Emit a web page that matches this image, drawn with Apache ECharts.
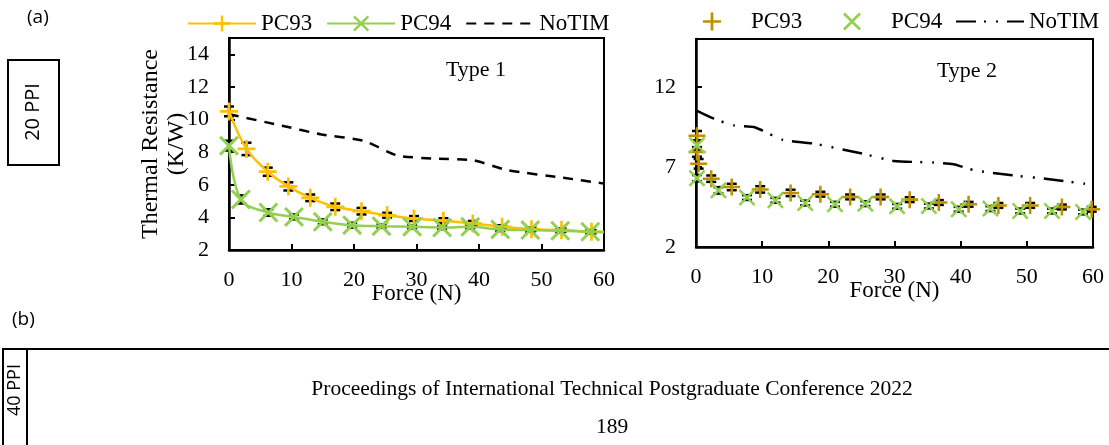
<!DOCTYPE html>
<html>
<head>
    <meta charset="utf-8" />
    <title>Thermal resistance vs force</title>
    <script src="https://cdn.jsdelivr.net/npm/echarts@6/dist/echarts.min.js"></script>
    <style>
        html, body { margin: 0; padding: 0; background: #fff; }
        #main { width: 1109px; height: 445px; }
    </style>
</head>
<body>
    <div id="main"></div>
<script>
    // ---- Type 1 (left panel) ----
    var t1Force93 = [0, 2.8, 6.2, 9.5, 13, 17, 21.2, 25.3, 29.6, 34.3, 39, 43.7, 48.4, 53.2, 58, 60];
    var t1PC93 = [10.5, 8.2, 6.8, 5.9, 5.2, 4.65, 4.38, 4.13, 3.93, 3.8, 3.63, 3.42, 3.27, 3.22, 3.12, 3.1];
    var t1Err93 = [0.3, 0.38, 0.25, 0.25, 0.2, 0.2, 0.2, 0.15, 0.15, 0.15, 0.15, 0.1, 0.1, 0.1, 0.1];
    var t1Force94 = [0, 1.9, 6.3, 10.4, 15, 19.7, 24.4, 29.3, 34.1, 38.6, 43.4, 48.2, 53, 57.8, 60];
    var t1PC94 = [8.4, 5.1, 4.3, 4.03, 3.73, 3.52, 3.46, 3.42, 3.38, 3.42, 3.26, 3.22, 3.18, 3.12, 3.1];
    var t1Err94 = [0.3, 0.25, 0.2, 0.15, 0.15, 0.15, 0.1, 0.1, 0.1, 0.1, 0.1, 0.1, 0.1, 0.1];
    var t1ForceNo = [0, 8.5, 14.6, 21.5, 26.9, 33, 39.1, 44.5, 53.5, 60];
    var t1NoTIM = [10.33, 9.62, 9.1, 8.7, 7.8, 7.6, 7.5, 6.9, 6.43, 6.07];

    // ---- Type 2 (right panel) ----
    var t2Force93 = [0.15, 0.15, 0.4, 2.3, 5.4, 9.7, 14.3, 18.8, 23.3, 27.9, 32.3, 36.7, 41.2, 45.7, 50.5, 55.3, 59.8];
    var t2PC93 = [8.95, 7.94, 7.2, 6.27, 5.75, 5.6, 5.38, 5.3, 5.13, 5.13, 4.96, 4.78, 4.67, 4.6, 4.6, 4.5, 4.36];
    var t2Err93 = [0.3, 0.3, 0.3, 0.2, 0.2, 0.2, 0.2, 0.15, 0.15, 0.15, 0.15, 0.15, 0.15, 0.15, 0.15, 0.15, 0.15];
    var t2Force94 = [0.15, 0.15, 3.4, 7.7, 12, 16.5, 21, 25.6, 30.4, 35.2, 39.7, 44.5, 49, 53.8, 58.5];
    var t2PC94 = [8.36, 6.3, 5.54, 5.09, 4.92, 4.75, 4.67, 4.71, 4.54, 4.56, 4.36, 4.4, 4.25, 4.25, 4.19];
    var t2Err94 = [0.3, 0.2, 0.2, 0.15, 0.15, 0.15, 0.15, 0.15, 0.15, 0.15, 0.15, 0.15, 0.15, 0.15, 0.15];
    var t2ForceNo = [0, 2.7, 5.7, 8.7, 10, 13, 17.8, 25.1, 29.9, 35.9, 38.9, 42, 47.8, 52.8, 58.8];
    var t2NoTIM = [10.54, 10.02, 9.6, 9.5, 9.29, 8.71, 8.46, 7.84, 7.38, 7.28, 7.17, 6.8, 6.48, 6.27, 5.96];

    var xTicks = { min: 0, max: 60, interval: 10 };

    var serif = 'Liberation Serif';
    var plus = 'path://M8.5,0H11.5V8.5H20V11.5H11.5V20H8.5V11.5H0V8.5H8.5Z';
    var cross = 'path://M0,2.1L2.1,0L10,7.9L17.9,0L20,2.1L12.1,10L20,17.9L17.9,20L10,12.1L2.1,20L0,17.9L7.9,10Z';

    function pts(xs, ys) {
        return xs.map(function (x, i) { return [x, ys[i]]; });
    }
    // line runs on to the right edge, last point has no marker
    function ptsOpenEnd(xs, ys) {
        return xs.map(function (x, i) {
            return i === xs.length - 1 ? { value: [x, ys[i]], symbol: 'none' } : [x, ys[i]];
        });
    }
    function errBars(xs, ys, es, gi) {
        return {
            type: 'custom', xAxisIndex: gi, yAxisIndex: gi, z: 1, silent: true,
            data: es.map(function (e, i) { return [xs[i], ys[i], e]; }),
            renderItem: function (params, api) {
                var x = api.value(0), y = api.value(1), e = api.value(2);
                var a = api.coord([x, y + e]), b = api.coord([x, y - e]);
                var s = { stroke: '#000', lineWidth: 2.5 };
                return {
                    type: 'group', children: [
                        { type: 'line', shape: { x1: a[0], y1: a[1], x2: b[0], y2: b[1] }, style: s },
                        { type: 'line', shape: { x1: a[0] - 5, y1: a[1], x2: a[0] + 5, y2: a[1] }, style: s },
                        { type: 'line', shape: { x1: b[0] - 5, y1: b[1], x2: b[0] + 5, y2: b[1] }, style: s }
                    ]
                };
            }
        };
    }

    function xAxis(gi) {
        return {
            type: 'value', gridIndex: gi, min: xTicks.min, max: xTicks.max, interval: xTicks.interval,
            axisLine: { show: true, onZero: false, lineStyle: { color: '#000', width: 2.5 } },
            axisTick: { show: true, inside: true, length: 6, lineStyle: { color: '#000', width: 2 } },
            axisLabel: { margin: 19, color: '#000', fontFamily: serif, fontSize: 22 },
            splitLine: { show: false },
            name: 'Force (N)', nameLocation: 'middle', nameGap: 32, nameMoveOverlap: false,
            nameTextStyle: { color: '#000', fontFamily: serif, fontSize: 23 }
        };
    }
    function yAxis(gi, min, max, interval) {
        return {
            type: 'value', gridIndex: gi, min: min, max: max, interval: interval,
            axisLine: { show: true, onZero: false, lineStyle: { color: '#000', width: 2.5 } },
            axisTick: { show: true, inside: true, length: 6, lineStyle: { color: '#000', width: 2 } },
            axisLabel: { margin: 20, color: '#000', fontFamily: serif, fontSize: 22, showMaxLabel: false },
            splitLine: { show: false }
        };
    }

    var yLeft = yAxis(0, 2, 15, 2);
    yLeft.name = 'Thermal Resistance\n(K/W)';
    yLeft.nameLocation = 'middle';
    yLeft.nameGap = 39;
    yLeft.nameRotate = 90;
    yLeft.nameMoveOverlap = false;
    yLeft.nameTextStyle = { color: '#000', fontFamily: serif, fontSize: 24, lineHeight: 26 };

    var legendText = { color: '#000', fontFamily: serif, fontSize: 23 };
    function legend(left, top, items, h) {
        return {
            left: left, top: top, padding: 0, itemWidth: 68, itemHeight: h, itemGap: 14, selectedMode: false,
            data: items, textStyle: legendText,
            formatter: function (n) { return n.replace(' (Type 2)', ''); }
        };
    }

    var option = {
        animation: false,
        backgroundColor: '#fff',
        grid: [
            { left: 229, top: 38, width: 375, height: 212, show: true, borderColor: '#000', borderWidth: 2, outerBoundsMode: 'none' },
            { left: 696, top: 39, width: 397, height: 208, show: true, borderColor: '#000', borderWidth: 2, outerBoundsMode: 'none' }
        ],
        xAxis: [xAxis(0), xAxis(1)],
        yAxis: [yLeft, yAxis(1, 2, 15, 5)],
        legend: [
            legend(187, 12, ['PC93', 'PC94', { name: 'NoTIM', itemStyle: { opacity: 0 } }], 20),
            legend(703, 10, [{ name: 'PC93 (Type 2)', icon: plus }], 18),
            legend(843, 10, [{ name: 'PC94 (Type 2)', icon: cross }], 18),
            legend(955, 10, [{ name: 'NoTIM (Type 2)', itemStyle: { opacity: 0 } }], 18)
        ],
        series: [
            errBars(t1Force93, t1PC93, t1Err93, 0),
            errBars(t1Force94, t1PC94, t1Err94, 0),
            {
                name: 'PC93', type: 'line', xAxisIndex: 0, yAxisIndex: 0, z: 3, smooth: 0.35,
                data: ptsOpenEnd(t1Force93, t1PC93),
                symbol: plus, symbolSize: 18,
                itemStyle: { color: '#FFC000' }, lineStyle: { color: '#FFC000', width: 2.5 }
            },
            {
                name: 'PC94', type: 'line', xAxisIndex: 0, yAxisIndex: 0, z: 4, smooth: 0.35,
                data: ptsOpenEnd(t1Force94, t1PC94),
                symbol: cross, symbolSize: 20,
                itemStyle: { color: '#92D050' }, lineStyle: { color: '#92D050', width: 2.5 }
            },
            {
                name: 'NoTIM', type: 'line', xAxisIndex: 0, yAxisIndex: 0, z: 2, smooth: 0.2,
                data: pts(t1ForceNo, t1NoTIM), symbol: 'none',
                itemStyle: { color: '#000' }, lineStyle: { color: '#000', width: 2.5, type: [10, 8] }
            },
            errBars(t2Force93, t2PC93, t2Err93, 1),
            errBars(t2Force94, t2PC94, t2Err94, 1),
            {
                name: 'PC93 (Type 2)', type: 'scatter', xAxisIndex: 1, yAxisIndex: 1, z: 3,
                data: pts(t2Force93, t2PC93), symbol: plus, symbolSize: 17,
                itemStyle: { color: '#BF9000', opacity: 1 }
            },
            {
                name: 'PC94 (Type 2)', type: 'scatter', xAxisIndex: 1, yAxisIndex: 1, z: 4,
                data: pts(t2Force94, t2PC94), symbol: cross, symbolSize: 17,
                itemStyle: { color: '#92D050', opacity: 1 }
            },
            {
                name: 'NoTIM (Type 2)', type: 'line', xAxisIndex: 1, yAxisIndex: 1, z: 2, smooth: 0.2,
                data: pts(t2ForceNo, t2NoTIM), symbol: 'none',
                itemStyle: { color: '#000' }, lineStyle: { color: '#000', width: 2.5, type: [20, 8, 2, 10, 2, 9] }
            }
        ],
        graphic: [
            { type: 'text', left: 27, top: 8, style: { text: '(a)', font: '19px "Open Sans"', fill: '#000' } },
            { type: 'rect', shape: { x: 8, y: 60, width: 51, height: 105 }, style: { fill: 'none', stroke: '#000', lineWidth: 2 } },
            { type: 'text', x: 33, y: 112, rotation: Math.PI / 2, style: { text: '20 PPI', font: '20px "Open Sans"', fill: '#000', align: 'center', verticalAlign: 'middle' } },
            { type: 'text', x: 476, y: 70, style: { text: 'Type 1', font: '22px "Liberation Serif"', fill: '#000', align: 'center', verticalAlign: 'middle' } },
            { type: 'text', x: 967, y: 71, style: { text: 'Type 2', font: '22px "Liberation Serif"', fill: '#000', align: 'center', verticalAlign: 'middle' } },
            { type: 'text', left: 12, top: 310, style: { text: '(b)', font: '19px "Open Sans"', fill: '#000' } },
            { type: 'polyline', shape: { points: [[3, 445], [3, 349], [27, 349], [27, 445]] }, style: { fill: 'none', stroke: '#000', lineWidth: 2 } },
            { type: 'line', shape: { x1: 27, y1: 349, x2: 1109, y2: 349 }, style: { stroke: '#000', lineWidth: 2 } },
            { type: 'text', x: 15, y: 390, rotation: Math.PI / 2, style: { text: '40 PPI', font: '18px "Open Sans"', fill: '#000', align: 'center', verticalAlign: 'middle' } },
            { type: 'text', x: 612, y: 389, style: { text: 'Proceedings of International Technical Postgraduate Conference 2022', font: '21.5px "Liberation Serif"', fill: '#000', align: 'center', verticalAlign: 'middle' } },
            { type: 'text', x: 612, y: 427, style: { text: '189', font: '21.5px "Liberation Serif"', fill: '#000', align: 'center', verticalAlign: 'middle' } }
        ]
    };

    var myChart = echarts.init(document.getElementById('main'));
    myChart.setOption(option);
</script>
</body>
</html>
